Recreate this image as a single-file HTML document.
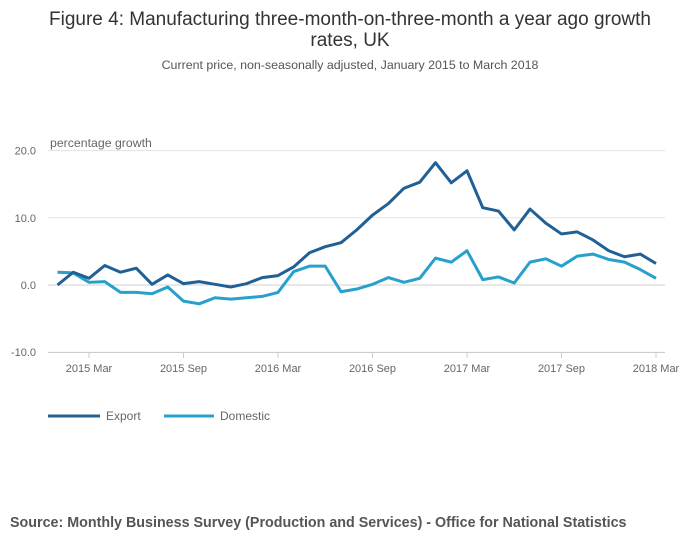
<!DOCTYPE html>
<html><head><meta charset="utf-8"><style>
body{margin:0;background:#fff;font-family:"Liberation Sans",sans-serif;}
svg text{font-family:"Liberation Sans",sans-serif;}
</style></head><body>
<svg width="700" height="549">
<text x="350" y="25" text-anchor="middle" font-size="19" fill="#333">Figure 4: Manufacturing three-month-on-three-month a year ago growth</text>
<text x="350" y="46" text-anchor="middle" font-size="19" fill="#333">rates, UK</text>
<text x="350" y="69" text-anchor="middle" font-size="12.4" fill="#555">Current price, non-seasonally adjusted, January 2015 to March 2018</text>
<text x="50" y="147" font-size="12.3" fill="#666">percentage growth</text>
<g id="grid"></g><g id="xaxis"></g><g id="series"></g>
<g>
<line x1="48" y1="416" x2="100" y2="416" stroke="#206095" stroke-width="3"/>
<text x="106" y="420" font-size="12" fill="#666">Export</text>
<line x1="164" y1="416" x2="214" y2="416" stroke="#27a0cc" stroke-width="3"/>
<text x="220" y="420" font-size="12" fill="#666">Domestic</text>
</g>
<text x="10" y="527" font-size="14.3" font-weight="bold" fill="#555">Source: Monthly Business Survey (Production and Services) - Office for National Statistics</text>
</svg>
<script>
const yTicks=[20,10,0,-10];
const yTickLabels=["20.0","10.0","0.0","-10.0"];
const xTickIdx=[2,8,14,20,26,32,38];
const xTickLabels=["2015 Mar","2015 Sep","2016 Mar","2016 Sep","2017 Mar","2017 Sep","2018 Mar"];
const exportVals=[0.0,1.9,1.0,2.9,1.9,2.5,0.1,1.5,0.2,0.5,0.1,-0.3,0.2,1.1,1.4,2.7,4.8,5.7,6.3,8.2,10.4,12.1,14.4,15.3,18.2,15.2,17.0,11.5,11.0,8.2,11.3,9.2,7.6,7.9,6.7,5.1,4.2,4.6,3.2];
const domesticVals=[1.9,1.8,0.4,0.5,-1.1,-1.1,-1.3,-0.3,-2.4,-2.8,-1.9,-2.1,-1.9,-1.7,-1.1,2.0,2.8,2.8,-1.0,-0.6,0.1,1.1,0.4,1.0,4.0,3.4,5.1,0.8,1.2,0.3,3.4,3.9,2.8,4.3,4.6,3.8,3.4,2.3,1.0];
const NS="http://www.w3.org/2000/svg";
const xs=i=>57.5+i*15.75;
const ys=v=>285-v*6.72;
const grid=document.getElementById('grid');
yTicks.forEach((t,k)=>{
 const l=document.createElementNS(NS,'line');
 l.setAttribute('x1',48);l.setAttribute('x2',665);l.setAttribute('y1',ys(t));l.setAttribute('y2',ys(t));
 l.setAttribute('stroke',t===0?'#d0d0d0':'#e3e3e3');
 
 
 grid.appendChild(l);
 const tx=document.createElementNS(NS,'text');
 tx.setAttribute('x',36);tx.setAttribute('y',ys(t)+4);tx.setAttribute('text-anchor','end');
 tx.setAttribute('font-size','11');tx.setAttribute('fill','#666');tx.textContent=yTickLabels[k];
 
 
 grid.appendChild(tx);
});
const xa=document.getElementById('xaxis');
const ax=document.createElementNS(NS,'line');
ax.setAttribute('x1',48);ax.setAttribute('x2',665);ax.setAttribute('y1',352.5);ax.setAttribute('y2',352.5);ax.setAttribute('stroke','#ccc');


xa.appendChild(ax);
xTickIdx.forEach((i,k)=>{
 const t=document.createElementNS(NS,'line');
 t.setAttribute('x1',xs(i));t.setAttribute('x2',xs(i));t.setAttribute('y1',352);t.setAttribute('y2',358);t.setAttribute('stroke','#ccc');
 
 
 xa.appendChild(t);
 const tx=document.createElementNS(NS,'text');
 tx.setAttribute('x',xs(i));tx.setAttribute('y',372);tx.setAttribute('text-anchor','middle');
 tx.setAttribute('font-size','11');tx.setAttribute('fill','#666');tx.textContent=xTickLabels[k];
 
 
 xa.appendChild(tx);
});
const sg=document.getElementById('series');
[[exportVals,'#206095','export-line'],[domesticVals,'#27a0cc','domestic-line']].forEach(([vals,c,n])=>{
 const p=document.createElementNS(NS,'polyline');
 p.setAttribute('points',vals.map((v,i)=>xs(i)+','+ys(v)).join(' '));
 p.setAttribute('fill','none');p.setAttribute('stroke',c);p.setAttribute('stroke-width','3');p.setAttribute('stroke-linejoin','round');
 
 
 sg.insertBefore(p,sg.firstChild);
});
</script>
</body></html>
